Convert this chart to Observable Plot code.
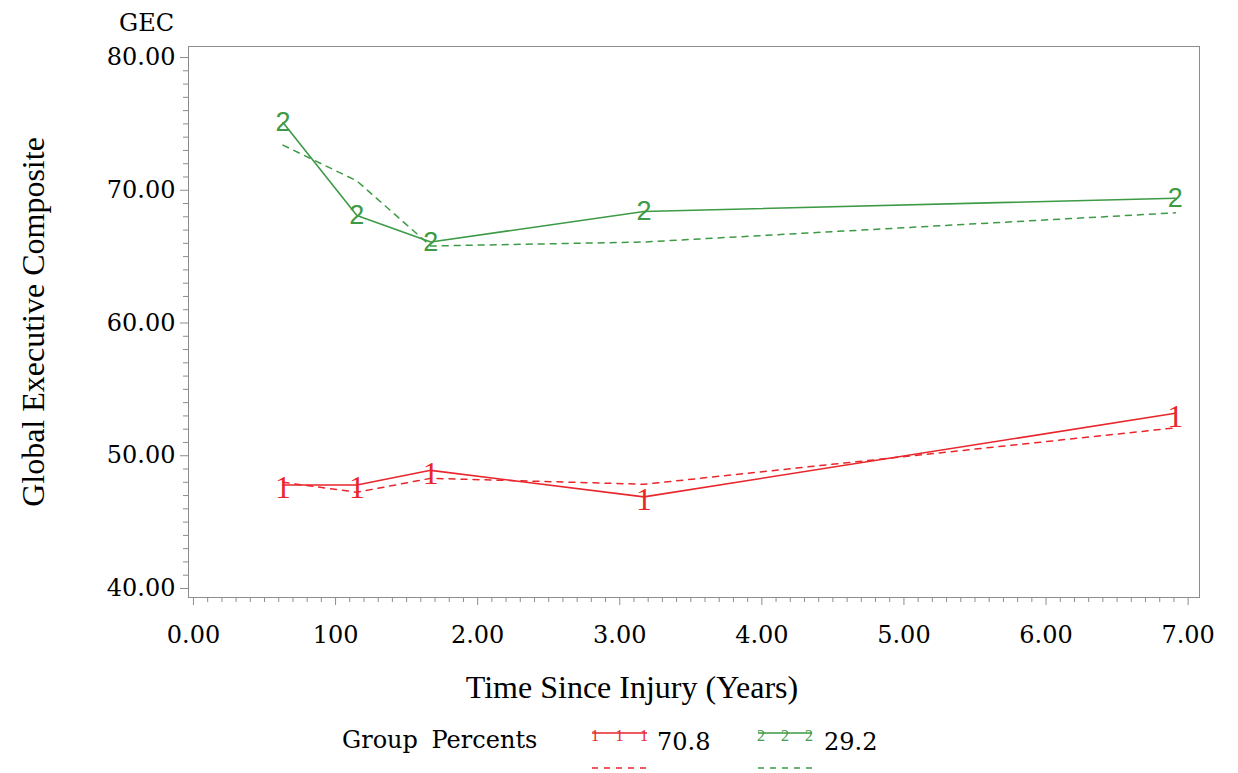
<!DOCTYPE html>
<html>
<head>
<meta charset="utf-8">
<script src="https://cdn.jsdelivr.net/npm/d3@7"></script>
<script src="https://cdn.jsdelivr.net/npm/@observablehq/plot@0.6"></script>
<style>
  html, body { margin: 0; padding: 0; background: white; }
  #chart { width: 1238px; }
  svg { display: block; }
</style>
</head>
<body>
<div id="chart"></div>
<script>
// ---- data ----
const times = [0.63, 1.15, 1.67, 3.17, 6.91];
const group1Observed  = [47.8, 47.8, 48.9, 46.9, 53.2];
const group1Predicted = [48.0, 47.25, 48.3, 47.85, 52.1];
const group2Observed  = [75.1, 68.1, 66.1, 68.4, 69.4];
const group2Predicted = [73.4, 70.7, 65.8, 66.1, 68.3];

const groupLabels   = ["1", "2"];
const groupPercents = ["70.8", "29.2"];

const xTicks      = [0, 1, 2, 3, 4, 5, 6, 7];
const xTickLabels = ["0.00", "100", "2.00", "3.00", "4.00", "5.00", "6.00", "7.00"];
const yTicks      = [40, 50, 60, 70, 80];
const yTickLabels = ["40.00", "50.00", "60.00", "70.00", "80.00"];

const xMinor = d3.range(0, 71).map(i => i / 10).filter(v => !xTicks.includes(v));
const yMinor = d3.range(40, 81).filter(v => !yTicks.includes(v));

const red = "#e8262b";
const green = "#3d9a45";
const axisGray = "#8c8c8c";

const rows = (ys) => times.map((t, i) => ({t, v: ys[i]}));
const g1o = rows(group1Observed), g1p = rows(group1Predicted);
const g2o = rows(group2Observed), g2p = rows(group2Predicted);

const plot = Plot.plot({
  width: 1238,
  height: 712,
  marginLeft: 188,
  marginRight: 39,
  marginTop: 46,
  marginBottom: 115,
  x: {domain: [-0.035, 7.08]},
  y: {domain: [39.32, 80.83]},
  style: {fontFamily: "DejaVu Serif", fontSize: "24px", color: "black", background: "white"},
  marks: [
    Plot.frame({stroke: axisGray}),
    Plot.axisY(yMinor, {tickSize: 5, tickFormat: () => "", stroke: axisGray, label: null}),
    Plot.axisY(yTicks, {tickSize: 8, tickPadding: 5, stroke: axisGray, fill: "black",
      tickFormat: (d) => yTickLabels[yTicks.indexOf(d)], label: null}),
    Plot.axisX(xMinor, {tickSize: 5, tickFormat: () => "", stroke: axisGray, label: null}),
    Plot.axisX(xTicks, {tickSize: 8, tickPadding: 20, stroke: axisGray, fill: "black",
      tickFormat: (d) => xTickLabels[xTicks.indexOf(d)], label: null}),
    Plot.text(["GEC"], {frameAnchor: "top-left", dx: -42, dy: -23, text: d => d,
      textAnchor: "middle", lineAnchor: "middle", fontSize: 24, fontFamily: "DejaVu Serif"}),
    Plot.text(["Time Since Injury (Years)"], {frameAnchor: "bottom", dx: -62, dy: 90, text: d => d,
      textAnchor: "middle", lineAnchor: "middle", fontSize: 32, fontFamily: "Liberation Serif"}),
    Plot.text(["Global Executive Composite"], {frameAnchor: "left", dx: -155, rotate: -90, text: d => d,
      textAnchor: "middle", lineAnchor: "middle", fontSize: 32, fontFamily: "Liberation Serif"}),
    Plot.line(g1p, {x: "t", y: "v", stroke: red, strokeWidth: 1.5, strokeDasharray: "6,6"}),
    Plot.line(g2p, {x: "t", y: "v", stroke: green, strokeWidth: 1.5, strokeDasharray: "6,6"}),
    Plot.line(g1o, {x: "t", y: "v", stroke: red, strokeWidth: 1.6}),
    Plot.line(g2o, {x: "t", y: "v", stroke: green, strokeWidth: 1.6}),
    Plot.text(g1o, {x: "t", y: "v", text: () => groupLabels[0], fill: red, fontSize: 32,
      fontFamily: "Liberation Serif", dy: 3}),
    Plot.text(g2o, {x: "t", y: "v", text: () => groupLabels[1], fill: green, fontSize: 27,
      fontFamily: "Liberation Sans"})
  ]
});
document.getElementById("chart").appendChild(plot);

// ---- legend below the plot ----
const legend = d3.create("svg").attr("width", 1238).attr("height", 61)
  .style("background", "white").style("display", "block");
legend.append("text").attr("x", 342).attr("y", 28).attr("dominant-baseline", "central")
  .attr("font-family", "DejaVu Serif").attr("font-size", 24).attr("word-spacing", 6)
  .text("Group Percents");
const items = [
  {x0: 592, x1: 647, tx: 657, color: red, label: groupLabels[0], pct: groupPercents[0]},
  {x0: 758, x1: 812, tx: 824, color: green, label: groupLabels[1], pct: groupPercents[1]}
];
for (const it of items) {
  legend.append("line").attr("x1", it.x0).attr("x2", it.x1).attr("y1", 21).attr("y2", 21)
    .attr("stroke", it.color).attr("stroke-width", 1.5);
  for (const k of [0, 0.5, 1]) {
    legend.append("text").attr("x", it.x0 + 3 + k * (it.x1 - it.x0 - 6)).attr("y", 23)
      .attr("text-anchor", "middle").attr("dominant-baseline", "central")
      .attr("font-family", "Liberation Serif").attr("font-size", 16).attr("fill", it.color)
      .text(it.label);
  }
  legend.append("text").attr("x", it.tx).attr("y", 30).attr("dominant-baseline", "central")
    .attr("font-family", "DejaVu Serif").attr("font-size", 24).text(it.pct);
  legend.append("line").attr("x1", it.x0).attr("x2", it.x1).attr("y1", 56).attr("y2", 56)
    .attr("stroke", it.color).attr("stroke-width", 1.5).attr("stroke-dasharray", "6,6");
}
document.getElementById("chart").appendChild(legend.node());
</script>
</body>
</html>
